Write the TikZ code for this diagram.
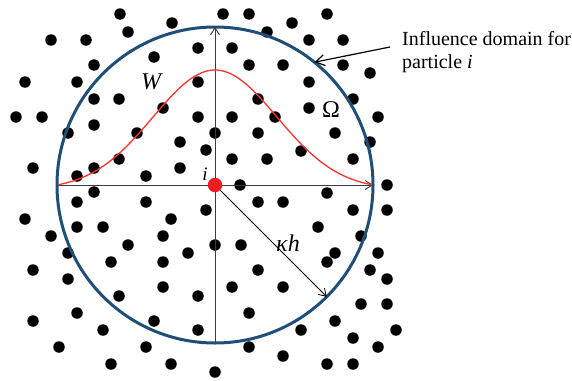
\documentclass[tikz,border=0pt]{standalone}
\usepackage{fontspec}
\setmainfont{Liberation Serif}
\usetikzlibrary{arrows.meta}
\definecolor{domblue}{RGB}{31,78,121}
\definecolor{kernred}{RGB}{250,50,50}
\definecolor{partred}{RGB}{237,28,36}
\definecolor{axisgray}{RGB}{60,60,60}
\begin{document}
\begin{tikzpicture}[x=1pt,y=-1pt,
  dot/.style={circle,fill=black,inner sep=0pt,minimum size=11.5pt},
  reddot/.style={circle,fill=partred,inner sep=0pt,minimum size=14.5pt},
  domain circle/.style={circle,draw=domblue,line width=3pt,inner sep=0pt,outer sep=0pt,minimum size=316pt},
  axisline/.style={draw=axisgray,line width=0.9pt,-{Straight Barb[length=7pt,width=9pt]}},
  radiusarrow/.style={draw=black,line width=0.8pt,-{Straight Barb[length=7pt,width=9pt]}},
  callout/.style={draw=black,line width=1.2pt,-{Straight Barb[length=9pt,width=11pt]}},
  lbl/.style={inner sep=0pt}]
\useasboundingbox (0,0) rectangle (572,380);
\fill[white] (0,0) rectangle (572,380);
% particles
\foreach \px/\py [count=\n] in {
120/14,172/23,128/32,51/40,86/40,223/14,249/14,327/14,292/23,267/32,309/40,343/40,
198/48,232/48,154/57,94/65,249/65,283/65,343/65,370/73,25/82,77/82,198/82,309/82,
94/99,119/99,258/99,353/99,163/108,309/108,16/117,42/117,198/117,232/117,275/117,378/117,
94/125,68/133,137/133,215/133,258/133,335/133,180/142,370/142,206/150,301/151,
119/159,232/159,267/159,353/159,33/168,94/168,180/168,77/176,146/176,240/185,387/185,
94/192,327/193,77/202,146/202,258/202,283/202,206/210,353/210,387/210,25/219,171/219,
77/227,103/227,318/227,51/236,163/236,361/236,128/245,215/245,241/245,68/253,188/253,
335/253,378/253,111/262,163/262,327/262,33/270,258/270,370/270,68/279,387/279,
163/287,232/287,283/287,119/296,198/296,361/304,387/304,77/313,249/313,33/321,154/321,
335/321,103/330,198/330,301/330,396/330,353/338,59/347,146/347,249/347,378/347,
283/356,111/364,171/364,327/364,353/364,215/372}
  \node[dot] (p\n) at (\px,\py) {};
% influence domain
\node[domain circle] (dom) at (215,185) {};
\draw[axisline] (dom.west) -- (dom.east);
\draw[axisline] (dom.south) -- (dom.north);
\draw[radiusarrow] (dom.center) -- (dom.-45);
% kernel
\draw[kernred,line width=1.3pt] plot[domain=-1.57:1.57,samples=90,smooth]
  ({215+100*\x},{185-115*(exp(-\x*\x/0.7688)-0.0388)/(1-0.0388)});
% particle i
\node[reddot] (pi) at (215,185) {};
% labels
\node[lbl,font=\fontsize{24}{26}\selectfont] (lw) at (152,82) {\textit{W}};
\node[lbl,font=\fontsize{24}{26}\selectfont] (lom) at (331,110) {Ω};
\node[lbl,font=\fontsize{19}{22}\selectfont] (li) at (205,174) {\textit{i}};
\node[lbl,font=\fontsize{24}{26}\selectfont] (lkh) at (288,243) {\textit{κh}};
\node[lbl,anchor=north west,align=left,font=\fontsize{20}{23}\selectfont] (ltxt) at (402,31.5)
  {Influence domain for\\particle \textit{i}};
\coordinate (cstart) at (390,47);
\draw[callout] (cstart) -- (dom.51);
\end{tikzpicture}
\end{document}
